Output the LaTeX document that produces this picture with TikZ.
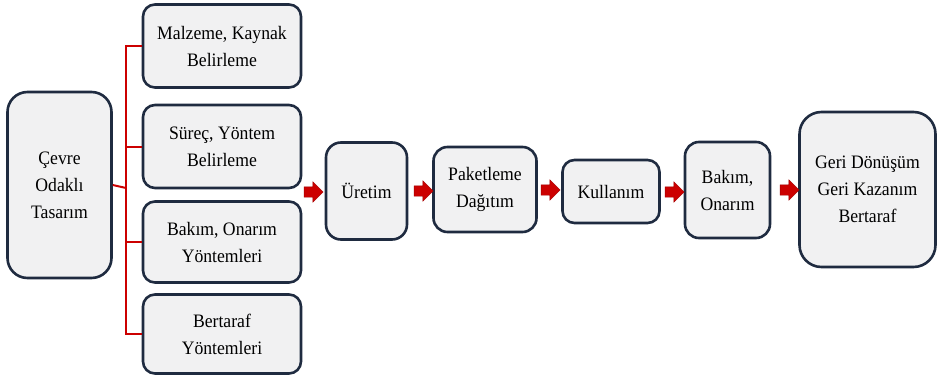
\documentclass[tikz,border=0pt]{standalone}
\usepackage{fontspec}
\setmainfont{Liberation Serif}[FakeStretch=0.93]
\usetikzlibrary{shapes.arrows}
\definecolor{boxfill}{HTML}{F1F1F2}
\definecolor{boxedge}{HTML}{1F2B40}
\definecolor{linkred}{HTML}{CC0000}
\tikzset{
  stage/.style={draw=boxedge, line width=2.6pt, fill=boxfill, rounded corners=#1,
    align=center, inner sep=0pt, font=\fontsize{19}{27}\selectfont},
  stage/.default=12pt,
  flowarrow/.style={single arrow, draw=linkred!80!black, line width=0.4pt, fill=linkred,
    minimum height=19pt, minimum width=0pt, inner xsep=0pt, inner ysep=5pt,
    single arrow head extend=5pt, single arrow tip angle=90},
  bus/.style={draw=linkred, line width=2pt}
}
\begin{document}
\begin{tikzpicture}[x=1pt, y=-1pt]
\useasboundingbox (0,0) rectangle (938,378);

% design focus box
\node[stage=20pt, minimum width=104pt, minimum height=186pt] (cevre) at (59.5,185) {Çevre\\Odaklı\\Tasarım};

% design criteria column
\node[stage, minimum width=158pt, minimum height=83pt] (b1) at (222,46) {Malzeme, Kaynak\\Belirleme};
\node[stage, minimum width=158pt, minimum height=83pt] (b2) at (222,146.5) {Süreç, Yöntem\\Belirleme};
\node[stage, minimum width=158pt, minimum height=81pt] (b3) at (222,242) {Bakım, Onarım\\Yöntemleri};
\node[stage, minimum width=158pt, minimum height=79pt] (b4) at (222,334) {Bertaraf\\Yöntemleri};

% life-cycle chain
\node[stage=15pt, minimum width=81pt, minimum height=97pt] (uretim) at (366.5,191) {Üretim};
\node[stage=14pt, minimum width=103pt, minimum height=85pt] (paket) at (485,189.5) {Paketleme\\Dağıtım};
\node[stage, minimum width=97pt, minimum height=63pt] (kullanim) at (611,191.5) {Kullanım};
\node[stage=14pt, minimum width=85pt, minimum height=96pt] (bakim) at (727.5,190) {Bakım,\\Onarım};
\node[stage=22pt, minimum width=136pt, minimum height=155pt] (geri) at (867.5,189.5) {Geri Dönüşüm\\Geri Kazanım\\Bertaraf};

% red bracket joining the criteria
\coordinate (hub) at (126,188);
\draw[bus] (cevre.east) -- (hub);
\draw[bus] (b1.west) -| (hub);
\draw[bus] (b4.west) -| (hub);
\draw[bus] (b2.west) -| (hub);
\draw[bus] (b3.west) -| (hub);

% block arrows between stages
\node[flowarrow] (a1) at (311,192) {};
\node[flowarrow] (a2) at (421,191) {};
\node[flowarrow] (a3) at (548,190) {};
\node[flowarrow] (a4) at (672,192) {};
\node[flowarrow] (a5) at (787,190) {};
\end{tikzpicture}
\end{document}
